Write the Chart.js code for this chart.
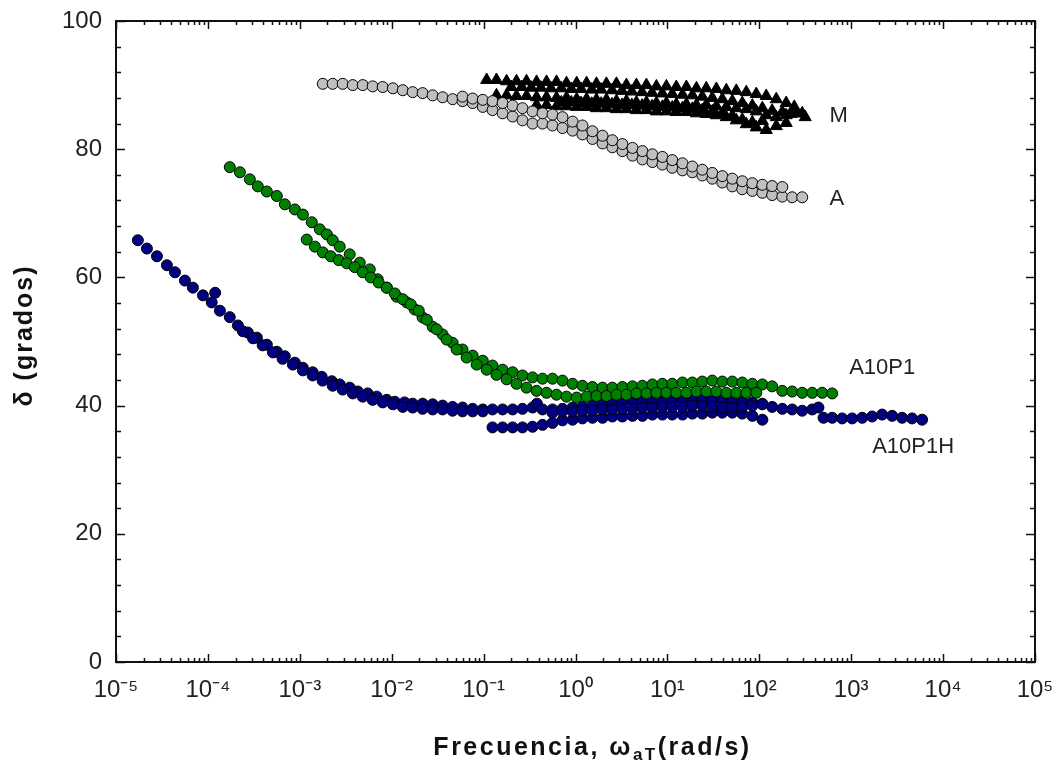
<!DOCTYPE html>
<html>
<head>
<meta charset="utf-8">
<script src="https://cdn.jsdelivr.net/npm/chart.js@4.4.0/dist/chart.umd.min.js"></script>
<style>
  body { margin: 0; background: #fff; }
</style>
</head>
<body>
<canvas id="myChart" width="1060" height="768"></canvas>
<script>
'use strict'

// frequency (rad/s) , delta (grados)
let aPoints = [
  [0.00178,90.2],[0.00228,90.2],[0.00293,90.2],[0.00377,90],[0.00484,90],[0.00621,89.8],[0.00798,89.7],
  [0.0103,89.5],[0.0132,89.2],[0.0169,88.9],[0.0217,88.75],[0.0279,88.4],[0.0358,88.1],[0.046,87.8],
  [0.059,87.5],[0.076,87.2],[0.098,86.6],[0.125,86.1],[0.161,85.6],[0.207,85.1],[0.265,84.5],[0.341,84.0],
  [0.438,84.0],[0.562,83.7],[0.722,83.3],[0.93,82.9],[1.19,82.3],[1.53,81.6],[1.97,80.9],[2.52,80.3],
  [3.24,79.7],[4.17,79.0],[5.35,78.4],[6.87,78.0],[8.83,77.6],[11.3,77.1],[14.6,76.7],[18.7,76.4],
  [24,75.9],[30.8,75.4],[39.6,74.8],[50.9,74.2],[65.3,73.75],[84,73.5],[108,73.2],[138,72.85],
  [178,72.6],[228,72.5],[293,72.5],
  // second isotherm
  [0.059,88.2],[0.076,87.9],[0.098,87.7],[0.125,87.5],[0.161,87.2],[0.207,86.8],[0.265,86.4],[0.341,85.9],
  [0.438,85.6],[0.562,85.4],[0.722,85.0],[0.93,84.3],[1.19,83.7],[1.53,82.8],[1.97,82.1],[2.52,81.4],
  [3.24,80.8],[4.17,80.2],[5.35,79.7],[6.87,79.2],[8.83,78.8],[11.3,78.3],[14.6,77.8],[18.7,77.3],
  [24,76.8],[30.8,76.3],[39.6,75.8],[50.9,75.4],[65.3,75],[84,74.7],[108,74.45],[138,74.25],[178,74.1]
];

let mPoints = [
  [0.108,90.8],[0.138,90.8],[0.178,90.6],[0.228,90.6],[0.293,90.6],[0.377,90.5],[0.484,90.5],[0.621,90.5],
  [0.798,90.3],[1.03,90.3],[1.32,90.3],[1.69,90.2],[2.17,90.2],[2.79,90.2],[3.58,90],[4.6,90],[5.91,90],
  [7.59,89.8],[9.75,89.8],[12.5,89.7],[16.1,89.7],[20.7,89.5],[26.5,89.5],[34.1,89.4],[43.8,89.2],
  [56.2,89.1],[72.2,88.9],[92.7,88.6],[119,88.3],[153,87.8],[196,87.2],[240,86.6],[293,85.6],[316,85],
  [0.2,89.7],[0.26,89.7],[0.33,89.6],[0.42,89.6],[0.54,89.5],[0.7,89.5],[0.9,89.4],[1.15,89.4],[1.5,89.3],
  [1.9,89.3],[2.5,89.2],[3.2,89.1],[4.1,89.0],[5.3,88.9],[6.8,88.8],[8.8,88.7],[11.3,88.6],[14.6,88.5],
  [18.7,88.4],[24,88.2],[30.8,88.0],[39.6,87.8],[50.9,87.5],[65.3,87.2],[84,86.8],[108,86.4],[138,86],
  [178,85.8],[220,85.5],
  [0.138,88.4],[0.178,88.4],[0.228,88.3],[0.293,88.3],[0.377,88.1],[0.484,88.1],[0.621,88],[0.798,88],
  [1.03,87.8],[1.32,87.8],[1.69,87.7],[2.17,87.7],[2.79,87.5],[3.58,87.5],[4.6,87.3],[5.91,87.3],
  [7.59,87.2],[9.75,87.2],[12.5,87],[16.1,87],[20.7,86.9],[26.5,86.9],[34.1,86.7],[43.8,86.6],
  [56.2,86.4],[72.2,86.25],[92.7,85.9],[119,85.3],[153,85],[196,85.3],[253,85.6],
  [0.7,87.3],[0.9,87.3],[1.15,87.2],[1.5,87.1],[1.9,87.1],[2.5,87],[3.2,86.9],[4.1,86.9],[5.3,86.8],
  [6.8,86.7],[8.8,86.6],[11.3,86.5],[14.6,86.4],[18.7,86.3],[24,86.1],[30.8,85.9],[39.6,85.6],
  [50.9,85.2],[65.3,84.6],[84,84.2],[108,84.4],
  [0.377,86.9],[0.484,86.9],[0.621,86.7],[0.798,86.7],[1.03,86.6],[1.32,86.6],[1.69,86.4],[2.17,86.4],
  [2.79,86.25],[3.58,86.25],[4.6,86.1],[5.91,86.1],[7.59,85.9],[9.75,85.9],[12.5,85.8],[16.1,85.8],
  [20.7,85.6],[26.5,85.5],[34.1,85.3],[43.8,85],[56.2,84.5],[72.2,83.9],[92.7,83.4],[119,83],
  [153,83.6],[196,84.1]
];

let a10p1Points = [
  [1.73e-4,77.2],[2.23e-4,76.4],[2.86e-4,75.3],[3.49e-4,74.2],[4.38e-4,73.4],[5.62e-4,72.7],[6.87e-4,71.4],
  [8.83e-4,70.6],[1.08e-3,69.8],[1.35e-3,68.6],[1.65e-3,67.5],[1.97e-3,66.7],[2.28e-3,65.8],[2.72e-3,64.8],
  [3.49e-3,63.6],[4.49e-3,62.3],[5.77e-3,61.25],[7.04e-3,59.7],[8.83e-3,58.4],[1.13e-2,57],[1.46e-2,56.1],
  [1.78e-2,55],[2.17e-2,53.75],[2.79e-2,52.3],[0.0358,51.1],[0.046,49.8],[0.059,48.75],[0.076,47.8],
  [0.098,47],[0.125,46.25],[0.161,45.6],[0.207,45.2],[0.265,44.7],[0.341,44.4],[0.438,44.2],[0.562,44.2],
  [0.722,43.9],[0.93,43.4],[1.19,43.1],[1.53,42.9],[1.97,42.8],[2.52,42.8],[3.24,42.9],[4.17,43],
  [5.35,43.1],[6.87,43.3],[8.83,43.4],[11.3,43.4],[14.6,43.6],[18.7,43.6],[24,43.75],[30.8,43.9],
  [39.6,43.75],[50.9,43.75],[65.3,43.6],[84,43.4],[108,43.3],[138,43],[178,42.3],[228,42.2],[293,42],
  [377,42],[484,42],[621,41.9],
  // second isotherm
  [1.19e-3,65.9],[1.46e-3,64.8],[1.78e-3,63.9],[2.17e-3,63.3],[2.65e-3,62.7],[3.24e-3,62.2],[3.96e-3,61.6],
  [4.84e-3,60.8],[5.91e-3,60],[7.22e-3,59.2],[8.83e-3,58.4],[1.08e-2,57.5],[1.32e-2,56.6],[1.61e-2,55.8],
  [1.97e-2,54.8],[2.41e-2,53.4],[3.08e-2,51.9],[3.96e-2,50.3],[5.09e-2,48.75],[6.54e-2,47.5],[8.4e-2,46.4],
  [0.108,45.6],[0.138,44.8],[0.178,44.1],[0.228,43.4],[0.293,42.8],[0.377,42.3],[0.484,42],[0.621,41.7],
  [0.798,41.4],[1.03,41.25],[1.32,41.4],[1.69,41.5],[2.17,41.5],[2.79,41.7],[3.58,41.7],[4.6,41.9],
  [5.91,41.9],[7.59,42],[9.75,42],[12.5,42],[16.1,42],[20.7,42.2],[26.5,42.2],[34.1,42.2],[43.8,42],
  [56.2,42],[72.2,42],[92.7,42]
];

let a10p1hPoints = [
  [1.73e-5,65.8],[2.17e-5,64.5],[2.79e-5,63.3],[3.58e-5,61.9],[4.38e-5,60.8],[5.62e-5,59.5],[6.87e-5,58.4],
  [8.83e-5,57.2],[1.2e-4,57.6],[1.10e-4,56.1],[1.35e-4,54.8],[1.73e-4,53.8],[2.12e-4,52.5],[2.72e-4,51.4],
  [3.41e-4,50.6],[4.38e-4,49.5],[5.62e-4,48.4],[6.87e-4,47.7],[8.83e-4,46.7],[1.08e-3,45.9],[1.38e-3,45.2],
  [1.73e-3,44.5],[2.23e-3,43.8],[2.72e-3,43.3],[3.49e-3,42.8],[4.27e-3,42.2],[5.48e-3,41.9],[6.87e-3,41.4],
  [8.83e-3,40.9],[1.08e-2,40.6],[1.38e-2,40.5],[1.69e-2,40.3],[2.17e-2,40.3],[2.79e-2,40.2],[0.0358,40],
  [0.046,39.8],[0.059,39.7],[0.076,39.5],[0.098,39.4],[0.125,39.4],[0.161,39.4],[0.207,39.4],[0.265,39.5],
  [0.341,39.7],[0.38,40.3],[0.438,39.4],[0.562,39.4],[0.722,39.5],[0.93,39.7],[1.19,39.8],[1.53,40],
  [1.97,40.2],[2.52,40.3],[3.24,40.5],[4.17,40.6],[5.35,40.6],[6.87,40.6],[8.83,40.6],[11.3,40.8],
  [14.6,40.8],[18.7,40.9],[24,40.9],[30.8,40.8],[39.6,40.8],[50.9,40.6],[65.3,40.6],[84,40.5],[108,40.3],
  // thick part of the first branch
  [2.4e-4,51.6],[3.1e-4,50.5],[3.95e-4,49.4],[5.1e-4,48.3],[6.5e-4,47.3],[8.4e-4,46.4],[1.08e-3,45.5],
  [1.38e-3,44.7],[1.77e-3,43.9],[2.28e-3,43.1],[2.93e-3,42.5],[3.77e-3,41.9],[4.84e-3,41.4],[6.21e-3,40.9],
  [7.98e-3,40.5],[1.03e-2,40.2],[1.32e-2,39.8],[1.69e-2,39.7],[2.17e-2,39.5],[2.79e-2,39.4],[0.0358,39.4],
  [0.046,39.2],[0.059,39.1],[0.076,39.1],[0.098,39.1],
  // lower isotherm
  [0.125,36.6],[0.161,36.6],[0.207,36.6],[0.265,36.6],[0.341,36.7],[0.438,37],[0.562,37.3],[0.722,37.7],
  [0.93,37.8],[1.19,38],[1.53,38.1],[1.97,38.1],[2.52,38.3],[3.24,38.3],[4.17,38.4],[5.35,38.4],
  [6.87,38.6],[8.83,38.6],[11.3,38.6],[14.6,38.6],[18.7,38.75],[24,38.75],[30.8,38.9],[39.6,38.9],
  [50.9,38.9],[65.3,38.75],[84,38.4],[108,37.8],
  // high frequency tail
  [0.562,38.9],[0.722,39.1],[0.93,39.1],[1.19,39.2],[1.53,39.2],[1.97,39.4],[2.52,39.4],[3.24,39.5],
  [4.17,39.5],[5.35,39.7],[6.87,39.7],[8.83,39.8],[11.3,39.8],[14.6,39.8],[18.7,40],[24,40],[30.8,39.8],
  [39.6,39.7],[50.9,39.7],[65.3,39.8],[84,40],[108,40.2],[138,39.8],[178,39.5],[228,39.4],[293,39.2],
  [377,39.4],[440,39.7],[500,38.1],[621,38.1],[798,38],[1025,38],[1318,38.1],[1691,38.3],[2173,38.6],
  [2790,38.4],[3583,38.1],[4600,38],[5910,37.8]
];

let seriesNames = ['A', 'M', 'A10P1', 'A10P1H'];
let seriesColors = ['#c0c0c0', '#000000', '#008000', '#000080'];

let xTickValues = [1e-5, 1e-4, 1e-3, 1e-2, 1e-1, 1, 10, 100, 1e3, 1e4, 1e5];
let xTickLabels = ['10⁻⁵', '10⁻⁴', '10⁻³', '10⁻²', '10⁻¹', '10⁰', '10¹', '10²', '10³', '10⁴', '10⁵'];
let yTickValues = [0, 20, 40, 60, 80, 100];
let yTitle = 'δ (grados)';

// curve names, placed in data coordinates
let curveLabels = [
  { text: 'M', x: 580, y: 85.2 },
  { text: 'A', x: 580, y: 72.2 },
  { text: 'A10P1', x: 950, y: 45.9 },
  { text: 'A10P1H', x: 1690, y: 33.6 }
];

function toXY(list) {
  return list.map(p => ({ x: p[0], y: p[1] }));
}

// frame, inward ticks, axis titles and curve names
const framePlugin = {
  id: 'frame',
  beforeDatasetsDraw(chart) {
    const ctx = chart.ctx;
    const a = chart.chartArea;
    const xs = chart.scales.x;
    const ys = chart.scales.y;
    ctx.save();
    ctx.strokeStyle = '#111';
    ctx.lineWidth = 2;
    ctx.strokeRect(a.left, a.top, a.right - a.left, a.bottom - a.top);

    ctx.lineWidth = 1.5;
    ctx.beginPath();
    for (let e = -5; e <= 5; e++) {
      for (let m = 1; m <= 9; m++) {
        if (e === 5 && m > 1) break;
        let px = Math.round(xs.getPixelForValue(m * Math.pow(10, e))) + 0.5;
        let len = m === 1 ? 8 : 4;
        ctx.moveTo(px, a.bottom); ctx.lineTo(px, a.bottom - len);
        ctx.moveTo(px, a.top); ctx.lineTo(px, a.top + len);
      }
    }
    for (let v = 0; v <= 100; v += 4) {
      let py = Math.round(ys.getPixelForValue(v)) + 0.5;
      let len = v % 20 === 0 ? 9 : 5;
      ctx.moveTo(a.left, py); ctx.lineTo(a.left + len, py);
      ctx.moveTo(a.right, py); ctx.lineTo(a.right - len, py);
    }
    ctx.stroke();
    ctx.restore();
  },
  afterDraw(chart) {
    const ctx = chart.ctx;
    const a = chart.chartArea;
    const xs = chart.scales.x;
    const ys = chart.scales.y;
    ctx.save();
    ctx.fillStyle = '#222';
    ctx.textBaseline = 'middle';
    ctx.font = '22px "Liberation Sans", Arial, sans-serif';
    for (let i = 0; i < curveLabels.length; i++) {
      let l = curveLabels[i];
      ctx.fillText(l.text, xs.getPixelForValue(l.x), ys.getPixelForValue(l.y));
    }

    ctx.fillStyle = '#111';
    ctx.letterSpacing = '2px';

    // y axis title, rotated
    ctx.save();
    ctx.font = 'bold 25px "Liberation Sans", Arial, sans-serif';
    ctx.translate(25, (a.top + a.bottom) / 2 - 6);
    ctx.rotate(-Math.PI / 2);
    ctx.textAlign = 'center';
    ctx.textBaseline = 'middle';
    ctx.fillText(yTitle, 0, 0);
    ctx.restore();

    // x axis title with subscript
    ctx.textBaseline = 'alphabetic';
    ctx.letterSpacing = '2.5px';
    let big = 'bold 25px "Liberation Sans", Arial, sans-serif';
    let small = 'bold 17px "Liberation Sans", Arial, sans-serif';
    let parts = [['Frecuencia, ω', big, 0], ['aT', small, 5], ['(rad/s)', big, 0]];
    let total = 0;
    parts.forEach(p => { ctx.font = p[1]; total += ctx.measureText(p[0]).width; });
    let x = (a.left + a.right) / 2 + 17 - total / 2;
    let base = a.bottom + 93;
    parts.forEach(p => {
      ctx.font = p[1];
      ctx.fillText(p[0], x, base + p[2]);
      x += ctx.measureText(p[0]).width;
    });
    ctx.restore();
  }
};

let pointSets = [aPoints, mPoints, a10p1Points, a10p1hPoints];
let datasets = pointSets.map((pts, i) => ({
  label: seriesNames[i],
  data: toXY(pts),
  showLine: false,
  pointStyle: seriesNames[i] === 'M' ? 'triangle' : 'circle',
  pointRadius: seriesNames[i] === 'M' ? 7 : 5.5,
  pointBackgroundColor: seriesColors[i],
  pointBorderColor: '#000',
  pointBorderWidth: 1
}));

let ctx = document.getElementById('myChart').getContext('2d');
let myChart = new Chart(ctx, {
  type: 'scatter',
  data: { datasets: datasets },
  options: {
    responsive: false,
    animation: false,
    layout: { padding: { left: 0, right: 25, top: 21, bottom: 0 } },
    plugins: {
      legend: { display: false },
      tooltip: { enabled: false }
    },
    scales: {
      x: {
        type: 'logarithmic',
        min: 1e-5,
        max: 1e5,
        afterFit(scale) {
          scale.height = 106;
          scale.paddingLeft = 0;
          scale.paddingRight = 0;
        },
        afterBuildTicks(scale) { scale.ticks = xTickValues.map(v => ({ value: v })); },
        grid: { display: false, drawTicks: false },
        border: { display: false },
        ticks: {
          autoSkip: false,
          maxRotation: 0,
          padding: 14,
          color: '#222',
          font: { family: '"Liberation Sans", Arial, sans-serif', size: 24 },
          callback: (v, i) => xTickLabels[i]
        }
      },
      y: {
        min: 0,
        max: 100,
        afterFit(scale) {
          scale.width = 116;
          scale.paddingTop = 0;
          scale.paddingBottom = 0;
        },
        afterBuildTicks(scale) { scale.ticks = yTickValues.map(v => ({ value: v })); },
        grid: { display: false, drawTicks: false },
        border: { display: false },
        ticks: {
          padding: 14,
          color: '#222',
          font: { family: '"Liberation Sans", Arial, sans-serif', size: 24 }
        }
      }
    }
  },
  plugins: [framePlugin]
});
</script>
</body>
</html>
